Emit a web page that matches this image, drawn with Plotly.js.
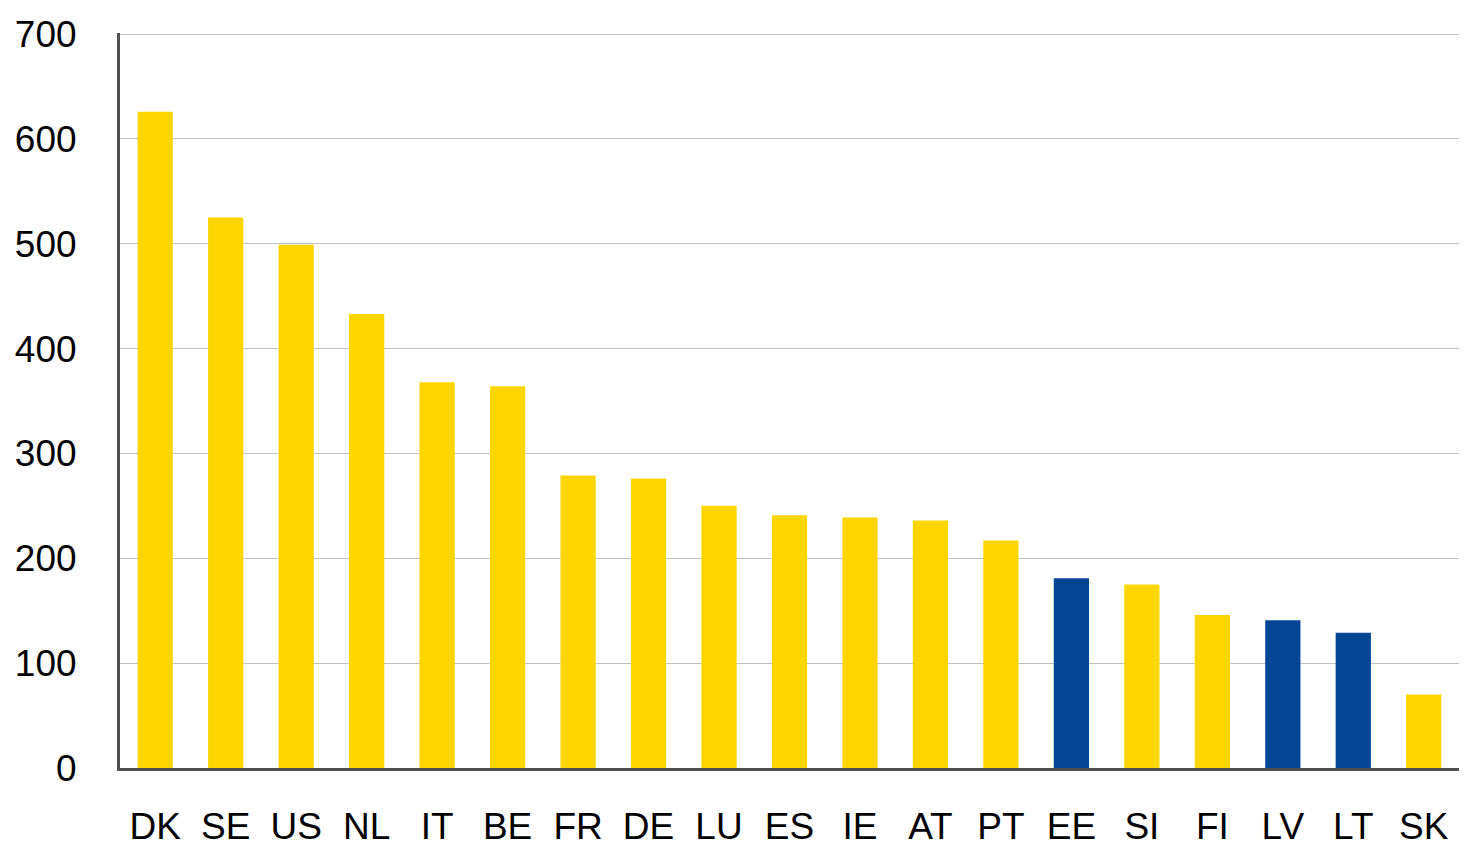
<!DOCTYPE html>
<html>
<head>
<meta charset="utf-8">
<script src="https://cdn.plot.ly/plotly-3.0.1.min.js"></script>
<style>html,body{margin:0;padding:0;background:#fff;}#chart{width:1477px;height:861px;}</style>
</head>
<body>
<div id="chart"></div>
<script>
const countries = ["DK","SE","US","NL","IT","BE","FR","DE","LU","ES","IE","AT","PT","EE","SI","FI","LV","LT","SK"];
const values = [626, 525, 499, 433, 368, 364, 279, 276, 250, 241, 239, 236, 217, 181, 175, 146, 141, 129, 70];
const highlighted = ["EE","LV","LT"];
const yTicks = [0, 100, 200, 300, 400, 500, 600, 700];

const yellow = "#FDD500";
const blue = "#034694";
const colors = countries.map(c => highlighted.includes(c) ? blue : yellow);

const data = [{
  type: "bar",
  x: countries,
  y: values,
  marker: {color: colors, line: {width: 0}},
  hoverinfo: "x+y"
}];

const layout = {
  width: 1477,
  height: 861,
  margin: {l: 120, r: 18, t: 33, b: 93},
  paper_bgcolor: "#fff",
  plot_bgcolor: "#fff",
  bargap: 0.5,
  showlegend: false,
  font: {family: "Liberation Sans, Arial, sans-serif", size: 37, color: "#000"},
  xaxis: {
    type: "category",
    showline: true,
    linewidth: 3,
    linecolor: "#505050",
    showgrid: false,
    ticks: "",
    ticklabelstandoff: 24,
    tickfont: {size: 37, color: "#000"}
  },
  yaxis: {
    range: [0, 701],
    tickvals: yTicks,
    ticktext: yTicks.map(String),
    showline: true,
    linewidth: 3,
    linecolor: "#505050",
    showgrid: true,
    gridcolor: "#C0C0C0",
    gridwidth: 1,
    zeroline: false,
    ticks: "",
    ticklabelstandoff: 33,
    tickfont: {size: 37, color: "#000"}
  }
};

Plotly.newPlot("chart", data, layout, {displayModeBar: false, staticPlot: true});
</script>
</body>
</html>
